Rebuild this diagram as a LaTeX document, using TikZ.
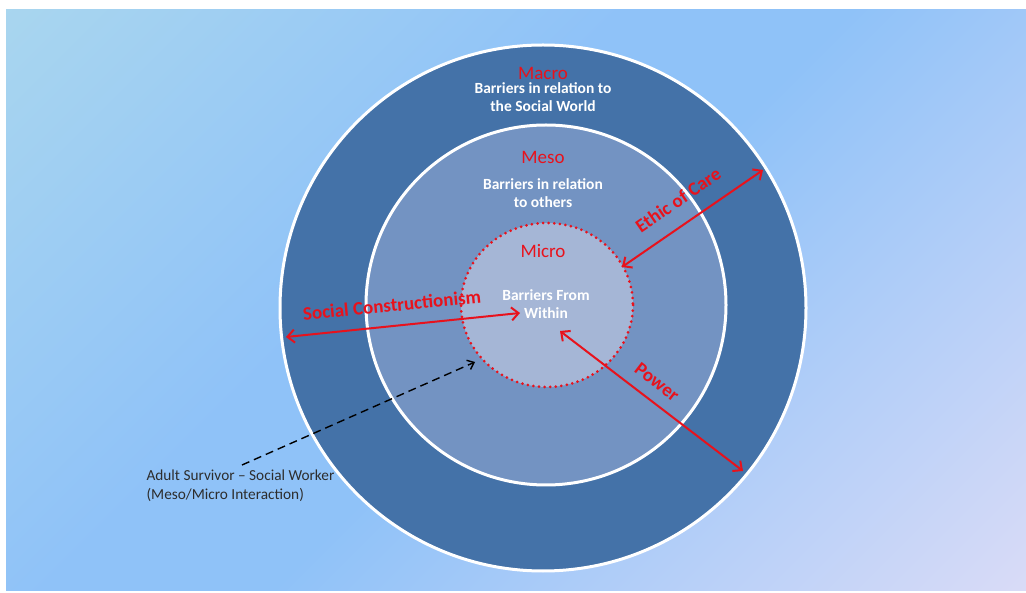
\documentclass[tikz,border=0pt]{standalone}
\usepackage{fontspec}
\setmainfont{Carlito}
\usetikzlibrary{arrows.meta}
\definecolor{ringblue}{RGB}{68,114,168}
\definecolor{mesoblue}{RGB}{115,147,194}
\definecolor{microblue}{RGB}{165,182,214}
\definecolor{labelred}{RGB}{232,18,28}
\definecolor{notegray}{RGB}{45,45,45}
\definecolor{bgA}{RGB}{182,224,234}
\definecolor{bgB}{RGB}{143,194,248}
\definecolor{bgC}{RGB}{249,230,247}
\pgfdeclarehorizontalshading{bgshade}{100bp}{color(0bp)=(bgA); color(42bp)=(bgB); color(52bp)=(bgB); color(100bp)=(bgC)}
\tikzset{ringname/.style={font=\fontsize{19}{21}\selectfont, text=labelred}}
\tikzset{barrier/.style={font=\bfseries\fontsize{15.5}{18}\selectfont, text=white, align=center}}
\tikzset{force/.style={draw=labelred, line width=2pt, {Straight Barb[length=7pt,width=13pt]}-{Straight Barb[length=7pt,width=13pt]}}}
\tikzset{forcelabel/.style={font=\bfseries\fontsize{19}{21}\selectfont, text=labelred}}

\begin{document}
\begin{tikzpicture}[x=1pt,y=-1pt]
        \useasboundingbox (0,0) rectangle (1026,593);
        \shade [shading=bgshade, shading angle=-45] (6,10) rectangle (1026,590);
        % the three rings
        \draw [white, line width=3pt, fill=ringblue] (543,308) circle [radius=263];
        \draw [white, line width=3pt, fill=mesoblue] (546,305) circle [radius=180];
        \fill [microblue] (547,305) ellipse [x radius=86, y radius=82];
        \draw [labelred, line width=3pt, line cap=round, dash pattern=on 0pt off 5.6pt] (547,305) ellipse [x radius=86, y radius=82];
        % ring texts
        \node [ringname] (macro) at (543,73) {Macro};
        \node [barrier] (macrotxt) at (543,97) {Barriers in relation to\\the Social World};
        \node [ringname] (meso) at (543,157) {Meso};
        \node [barrier] (mesotxt) at (543,193) {Barriers in relation\\to others};
        \node [ringname] (micro) at (543,251) {Micro};
        \node [barrier] (microtxt) at (546,304) {Barriers From\\Within};
        % forces
        \coordinate (sc-a) at (286,337);
        \coordinate (sc-b) at (520,313);
        \draw [force] (sc-a) -- (sc-b);
        \node [forcelabel, rotate=5.5] (sclabel) at (392,305) {Social Constructionism};
        \coordinate (ec-a) at (622,267);
        \coordinate (ec-b) at (763,170);
        \draw [force] (ec-a) -- (ec-b);
        \node [forcelabel, rotate=34.5] (eclabel) at (678,200) {Ethic of Care};
        \coordinate (pw-a) at (560,331);
        \coordinate (pw-b) at (743,471);
        \draw [force] (pw-a) -- (pw-b);
        \node [forcelabel, rotate=-37.5] (pwlabel) at (657,382) {Power};
        % interaction note
        \node [anchor=west, align=left, text=notegray, font=\fontsize{15.3}{19}\selectfont] (note) at (143,486) {Adult Survivor -- Social Worker\\(Meso/Micro Interaction)};
        \coordinate (note-tip) at (475,362);
        \draw [line width=1.4pt, dash pattern=on 8pt off 5pt, -{Straight Barb[length=6pt,width=10pt]}] (242,465) -- (note-tip);
    \end{tikzpicture}
\end{document}
